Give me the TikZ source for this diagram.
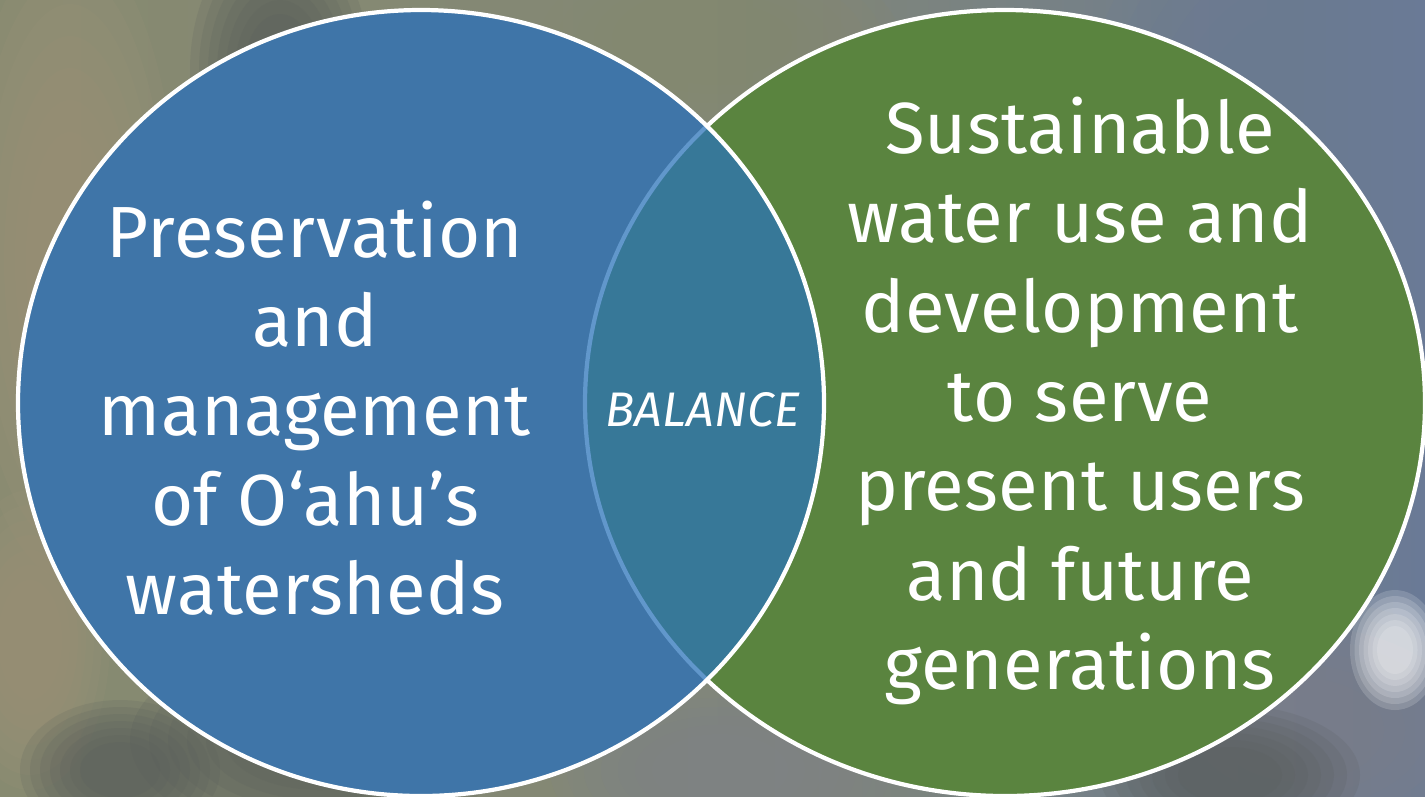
\documentclass[tikz,border=0pt]{standalone}
\usepackage{fontspec}
\setmainfont{Fira Sans}[LetterSpace=0.5]
\definecolor{bgolive}{HTML}{878A70}
\definecolor{bgbrown}{HTML}{9E9379}
\definecolor{bgdark}{HTML}{575C5A}
\definecolor{bgsky}{HTML}{6A7A96}
\definecolor{bggrey}{HTML}{7E828A}
\definecolor{leftblue}{HTML}{3F75A8}
\definecolor{rightgreen}{HTML}{5A843F}
\definecolor{lensteal}{HTML}{377898}
\definecolor{lensedge}{HTML}{6197CB}
\tikzset{
  bigtext/.style={text=white, align=center, font=\fontsize{20.6}{25.4}\selectfont},
  rim/.style={draw=white, line width=1.2pt}
}
\newcommand{\softblob}[5]{%
  \foreach \s in {1,0.9,0.8,0.7,0.6,0.5,0.4}
    \fill[#5, opacity=0.16] (#1,#2) ellipse [x radius=\s*#3, y radius=\s*#4];
}
\begin{document}
\begin{tikzpicture}[x=0.01cm,y=-0.01cm]
  \useasboundingbox (0,0) rectangle (1425,796);
  \shade[left color=bgolive, right color=bgsky, middle color=bgolive!85!bgsky] (0,0) rectangle (1425,796);
  \softblob{70}{260}{110}{320}{bgbrown}
  \softblob{30}{640}{80}{150}{bgbrown}
  \softblob{280}{70}{90}{140}{bgdark}
  \softblob{320}{740}{190}{100}{bgdark}
  \softblob{120}{770}{100}{70}{bgdark}
  \softblob{720}{770}{170}{90}{bggrey}
  \softblob{720}{40}{180}{90}{bgolive}
  \softblob{1300}{150}{220}{280}{bgsky}
  \softblob{1300}{730}{210}{130}{bggrey}
  \softblob{1230}{775}{130}{70}{bgdark}
  \softblob{1395}{650}{45}{60}{white}
  % right circle
  \fill[rightgreen] (1005,403) ellipse [x radius=420, y radius=393];
  \draw[rim] (1005,403) ellipse [x radius=420, y radius=393];
  % left circle
  \fill[leftblue] (421,403) ellipse [x radius=403, y radius=393];
  \begin{scope}
    \clip (421,403) ellipse [x radius=403, y radius=393];
    \fill[lensteal] (1005,403) ellipse [x radius=420, y radius=393];
    \draw[lensedge, line width=1.2pt] (1005,403) ellipse [x radius=420, y radius=393];
  \end{scope}
  \draw[rim] (421,403) ellipse [x radius=403, y radius=393];
  \node[bigtext] (watershed) at (315,408) {Preservation\\and\\management\\of O‘ahu’s\\watersheds};
  \node[bigtext] (wateruse) at (1080,401) {Sustainable\\water use and\\development\\to serve\\present users\\and future\\generations};
  \node[text=white, font=\fontsize{13.8}{15}\selectfont\itshape] (balance) at (703,410) {BALANCE};
\end{tikzpicture}
\end{document}
